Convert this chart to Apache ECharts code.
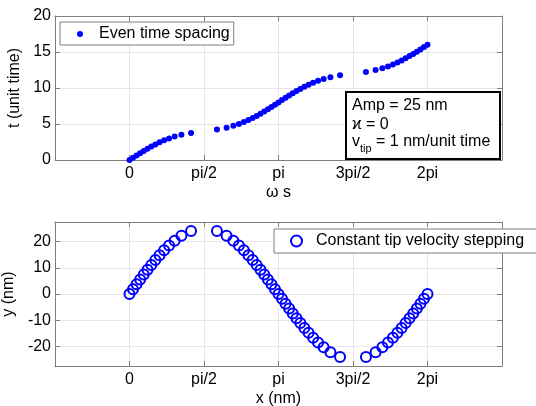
<!DOCTYPE html>
<html><head><meta charset="utf-8">
<script src="https://cdn.jsdelivr.net/npm/echarts@6/dist/echarts.min.js"></script>
<style>html,body{margin:0;padding:0;background:#fff}#c{width:536px;height:406px}</style>
</head><body><div id="c"></div>
<script>
// ---- data ----
const omegaS = [0, 0.0741, 0.1487, 0.2241, 0.3008, 0.3794, 0.4606, 0.5451, 0.6342, 0.7297, 0.8338, 0.9520, 1.0949, 1.2980,
  1.8436, 2.0467, 2.1896, 2.3078, 2.4119, 2.5074, 2.5965, 2.6810, 2.7622, 2.8408, 2.9175, 2.9929, 3.0675, 3.1416,
  3.2157, 3.2903, 3.3657, 3.4424, 3.5210, 3.6022, 3.6867, 3.7758, 3.8713, 3.9754, 4.0936, 4.2365, 4.4396,
  4.9852, 5.1883, 5.3312, 5.4494, 5.5535, 5.6490, 5.7381, 5.8226, 5.9038, 5.9824, 6.0591, 6.1345, 6.2091, 6.2832];
const tUnit = [0, 0.319, 0.636, 0.952, 1.264, 1.571, 1.874, 2.168, 2.455, 2.732, 2.999, 3.255, 3.504, 3.761,
  4.239, 4.496, 4.745, 5.001, 5.268, 5.545, 5.832, 6.126, 6.429, 6.736, 7.048, 7.364, 7.681, 8.000,
  8.319, 8.636, 8.952, 9.264, 9.571, 9.874, 10.168, 10.455, 10.732, 10.999, 11.255, 11.504, 11.761,
  12.239, 12.496, 12.745, 13.001, 13.268, 13.545, 13.832, 14.126, 14.429, 14.736, 15.048, 15.364, 15.681, 16.000];
const xNm = [0, 0.0741, 0.1487, 0.2241, 0.3008, 0.3794, 0.4606, 0.5451, 0.6342, 0.7297, 0.8338, 0.9520, 1.0949, 1.2980,
  1.8436, 2.0467, 2.1896, 2.3078, 2.4119, 2.5074, 2.5965, 2.6810, 2.7622, 2.8408, 2.9175, 2.9929, 3.0675, 3.1416,
  3.2157, 3.2903, 3.3657, 3.4424, 3.5210, 3.6022, 3.6867, 3.7758, 3.8713, 3.9754, 4.0936, 4.2365, 4.4396,
  4.9852, 5.1883, 5.3312, 5.4494, 5.5535, 5.6490, 5.7381, 5.8226, 5.9038, 5.9824, 6.0591, 6.1345, 6.2091, 6.2832];
const yNm = [0, 1.85, 3.70, 5.56, 7.41, 9.26, 11.11, 12.96, 14.81, 16.67, 18.52, 20.37, 22.22, 24.07,
  24.07, 22.22, 20.37, 18.52, 16.67, 14.81, 12.96, 11.11, 9.26, 7.41, 5.56, 3.70, 1.85, 0,
  -1.85, -3.70, -5.56, -7.41, -9.26, -11.11, -12.96, -14.81, -16.67, -18.52, -20.37, -22.22, -24.07,
  -24.07, -22.22, -20.37, -18.52, -16.67, -14.81, -12.96, -11.11, -9.26, -7.41, -5.56, -3.70, -1.85, 0];
const xTickLabels = ['', '0', 'pi/2', 'pi', '3pi/2', '2pi', ''];
const seriesNames = ['Even time spacing', 'Constant tip velocity stepping'];
const axisNames = { topX: 'ω s', topY: 't (unit time)', botX: 'x (nm)', botY: 'y (nm)' };
const noteLines = ['Amp = 25 nm', 'ϰ = 0', 'v', 'tip', '= 1 nm/unit time'];

// ---- chart ----
const FONT = "'Liberation Sans', Arial, Helvetica, sans-serif";
const FS = 16;
const GRAY = '#7f7f7f';
const BLUE = '#0000ff';
const HALF = Math.PI / 2;
const xFmt = v => { const k = Math.round(v / HALF) + 1; return xTickLabels[k] !== undefined ? xTickLabels[k] : ''; };

function xAxis(grid, pos, name) {
  const main = pos === 'bottom';
  return {
    type: 'value', gridIndex: grid, position: pos, min: -HALF, max: 5 * HALF, interval: HALF,
    name: main ? name : '', nameLocation: 'middle', nameGap: 25,
    nameTextStyle: { fontFamily: FONT, fontSize: FS, color: '#000' },
    axisLine: { show: true, onZero: false, lineStyle: { color: GRAY, width: 1 } },
    axisTick: { show: true, inside: true, length: 5, lineStyle: { color: GRAY } },
    axisLabel: { show: main, formatter: xFmt, fontFamily: FONT, fontSize: FS, color: '#000', margin: 6 },
    splitLine: { show: main, lineStyle: { color: '#e6e6e6', width: 1 } }
  };
}
function yAxis(grid, pos, name, extra) {
  const main = pos === 'left';
  return Object.assign({
    type: 'value', gridIndex: grid, position: pos,
    name: main ? name : '', nameLocation: 'middle', nameGap: 31, nameRotate: 90,
    nameTextStyle: { fontFamily: FONT, fontSize: FS, color: '#000' },
    axisLine: { show: true, onZero: false, lineStyle: { color: GRAY, width: 1 } },
    axisTick: { show: true, inside: true, length: 5, lineStyle: { color: GRAY } },
    axisLabel: { show: main, fontFamily: FONT, fontSize: FS, color: '#000', margin: 4 },
    splitLine: { show: main, lineStyle: { color: '#e6e6e6', width: 1 } }
  }, extra);
}
const yBotExtra = { min: -27.5, max: 27.5, minInterval: 10, maxInterval: 10 };

const chart = echarts.init(document.getElementById('c'), null, { renderer: 'canvas' });
const yb = yAxis(1, 'left', axisNames.botY, yBotExtra);
yb.axisLabel.formatter = v => (Math.abs(v % 10) < 1e-6 ? String(v) : '');
const yb2 = yAxis(1, 'right', '', yBotExtra);

chart.setOption({
  animation: false,
  backgroundColor: '#fff',
  grid: [
    { left: 55, top: 16, width: 447, height: 144, containLabel: false, outerBoundsMode: 'none' },
    { left: 55, top: 222, width: 447, height: 144, containLabel: false, outerBoundsMode: 'none' }
  ],
  xAxis: [xAxis(0, 'bottom', axisNames.topX), xAxis(0, 'top'), xAxis(1, 'bottom', axisNames.botX), xAxis(1, 'top')],
  yAxis: [yAxis(0, 'left', axisNames.topY, { min: 0, max: 20, interval: 5 }), yAxis(0, 'right', '', { min: 0, max: 20, interval: 5 }), yb, yb2],
  legend: [
    {
      left: 60, top: 22, orient: 'horizontal', padding: [4, 4, 3, 17],
      backgroundColor: '#fff', borderColor: GRAY, borderWidth: 1, borderRadius: 0,
      itemWidth: 6, itemHeight: 6, itemGap: 0,
      textStyle: { fontFamily: FONT, fontSize: FS, color: '#000', padding: [0, 0, 0, 11] },
      data: [{ name: seriesNames[0], icon: 'circle', itemStyle: { color: BLUE } }]
    },
    {
      left: 274, top: 229, orient: 'horizontal', padding: [4, 14, 4, 16],
      backgroundColor: '#fff', borderColor: GRAY, borderWidth: 1, borderRadius: 0,
      itemWidth: 11, itemHeight: 11, itemGap: 0,
      textStyle: { fontFamily: FONT, fontSize: FS, color: '#000', padding: [0, 0, 0, 9] },
      data: [{ name: seriesNames[1], icon: 'circle', itemStyle: { color: 'rgba(0,0,0,0)', borderColor: BLUE, borderWidth: 2 } }]
    }
  ],
  series: [
    {
      name: seriesNames[0], type: 'scatter', xAxisIndex: 0, yAxisIndex: 0,
      symbol: 'circle', symbolSize: 6, itemStyle: { color: BLUE, opacity: 1 },
      data: omegaS.map((x, i) => [x, tUnit[i]])
    },
    {
      name: seriesNames[1], type: 'scatter', xAxisIndex: 2, yAxisIndex: 2,
      symbol: 'circle', symbolSize: 10,
      itemStyle: { color: 'rgba(0,0,0,0)', borderColor: BLUE, borderWidth: 2, opacity: 1 },
      data: xNm.map((x, i) => [x, yNm[i]])
    }
  ],
  graphic: [
    { type: 'rect', z: 100, shape: { x: 346, y: 92, width: 154, height: 67 }, style: { fill: '#fff', stroke: '#000', lineWidth: 2 } },
    { type: 'text', z: 101, x: 352, y: 106, style: { text: noteLines[0], font: FS + 'px ' + FONT, fill: '#000', verticalAlign: 'middle' } },
    { type: 'text', z: 101, x: 352, y: 125, style: { text: noteLines[1], font: FS + 'px ' + FONT, fill: '#000', verticalAlign: 'middle' } },
    { type: 'text', z: 101, x: 352, y: 142, style: { text: noteLines[2], font: FS + 'px ' + FONT, fill: '#000', verticalAlign: 'middle' } },
    { type: 'text', z: 101, x: 360, y: 149, style: { text: noteLines[3], font: '11px ' + FONT, fill: '#000', verticalAlign: 'middle' } },
    { type: 'text', z: 101, x: 376, y: 142, style: { text: noteLines[4], font: FS + 'px ' + FONT, fill: '#000', verticalAlign: 'middle' } }
  ]
});
</script>
</body></html>
